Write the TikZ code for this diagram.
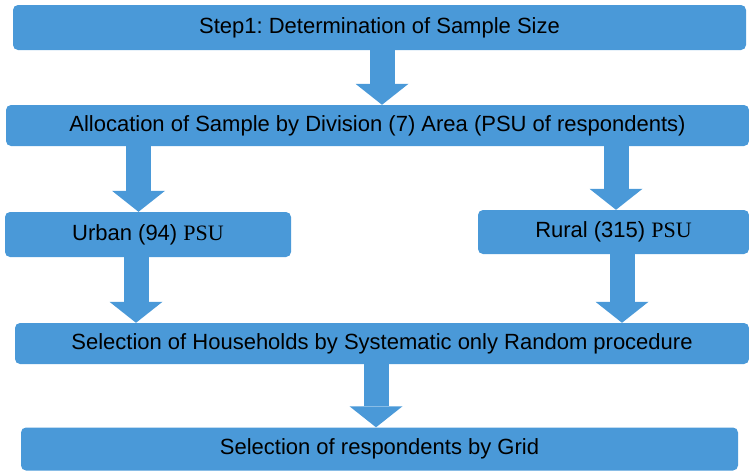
\documentclass[tikz,border=0pt]{standalone}
\usepackage{fontspec}
\setmainfont{Liberation Sans}
\newfontfamily\psufont{Liberation Serif}
\usetikzlibrary{arrows.meta}
\definecolor{boxblue}{RGB}{74,153,216}
\frenchspacing
\begin{document}
\begin{tikzpicture}[x=1pt,y=-1pt,
  flowbox/.style={fill=boxblue, draw=none, rounded corners=5pt, inner sep=0pt,
    font=\fontsize{22}{26}\selectfont, text=black},
  fatarrow/.style={draw=boxblue, line width=25pt, line cap=butt,
    -{Triangle[length=21pt,width=53pt,line width=0pt]}, shorten <=-1pt}]
\useasboundingbox (0,0) rectangle (749,471);
\node[flowbox, minimum width=733pt, minimum height=45pt] (b1) at (379.5,27.5) {Step1: Determination of Sample Size};
\node[flowbox, minimum width=743pt, minimum height=41pt] (b2) at (377.5,125.5) {Allocation of Sample by Division (7) Area (PSU of respondents)};
\node[flowbox, minimum width=286pt, minimum height=45pt] (urb) at (148,234.5) {Urban (94) {\psufont PSU}};
\node[flowbox, minimum width=271pt, minimum height=44pt] (rur) at (613.5,232) {Rural (315) {\psufont PSU}};
\node[flowbox, minimum width=734pt, minimum height=41pt] (hh) at (382,343.5) {Selection of Households by Systematic only Random procedure};
\node[flowbox, minimum width=717pt, minimum height=43pt] (resp) at (379.5,449) {Selection of respondents by Grid};
\draw[fatarrow] (b1.south -| 382,0) -- (b2.north -| 382,0);
\draw[fatarrow] (b2.south -| 138.5,0) -- (urb.north -| 138.5,0);
\draw[fatarrow] (b2.south -| 616,0) -- (rur.north -| 616,0);
\draw[fatarrow] (urb.south -| 136,0) -- (hh.north -| 136,0);
\draw[fatarrow] (rur.south -| 622,0) -- (hh.north -| 622,0);
\draw[fatarrow] (hh.south -| 376,0) -- (resp.north -| 376,0);
\end{tikzpicture}
\end{document}
